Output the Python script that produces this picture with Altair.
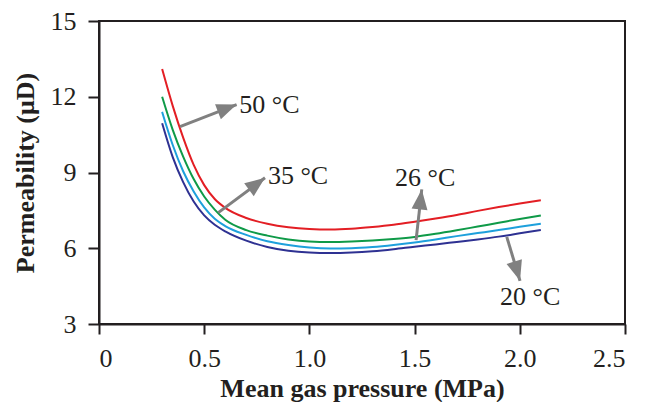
import math
import altair as alt
import pandas as pd

# ---- data ----
pressure = [0.30, 0.35, 0.40, 0.45, 0.50, 0.55, 0.60, 0.70, 0.80, 0.90, 1.00,
            1.10, 1.20, 1.30, 1.40, 1.50, 1.60, 1.70, 1.80, 1.90, 2.00, 2.10]
perm_50 = [13.1, 11.65, 10.38, 9.3, 8.5, 7.95, 7.6, 7.2, 6.97, 6.83, 6.76,
           6.74, 6.77, 6.84, 6.93, 7.05, 7.18, 7.32, 7.48, 7.63, 7.77, 7.9]
perm_35 = [12.0, 10.7, 9.63, 8.74, 8.05, 7.53, 7.13, 6.72, 6.5, 6.35, 6.27,
           6.25, 6.27, 6.31, 6.37, 6.45, 6.57, 6.71, 6.86, 7.01, 7.16, 7.3]
perm_26 = [11.4, 10.1, 9.05, 8.25, 7.62, 7.17, 6.88, 6.53, 6.28, 6.13, 6.03,
           5.99, 6.0, 6.05, 6.13, 6.23, 6.35, 6.48, 6.6, 6.72, 6.85, 6.97]
perm_20 = [10.95, 9.62, 8.62, 7.85, 7.3, 6.93, 6.67, 6.3, 6.05, 5.9, 5.83,
           5.81, 5.83, 5.88, 5.96, 6.06, 6.15, 6.25, 6.35, 6.46, 6.59, 6.72]

series_names = ["20 °C", "26 °C", "35 °C", "50 °C"]
series_values = [perm_20, perm_26, perm_35, perm_50]
series_colors = ["#2e3192", "#1ea0dc", "#0f9a48", "#e31e24"]

# annotations: label anchor and arrow tail -> tip (data units)
label_text = ["50 °C", "35 °C", "26 °C", "20 °C"]
label_x = [0.667, 0.803, 1.407, 1.906]
label_y = [11.35, 8.54, 8.46, 3.76]
arrow_x0 = [0.385, 0.567, 1.507, 1.938]
arrow_y0 = [10.82, 7.41, 6.32, 6.45]
arrow_x1 = [0.654, 0.789, 1.534, 2.001]
arrow_y1 = [11.69, 8.79, 8.33, 4.71]

x_ticks = [0, 0.5, 1.0, 1.5, 2.0, 2.5]
y_ticks = [3, 6, 9, 12, 15]

W, H = 526, 303
X_DOM = [0, 2.5]
Y_DOM = [3, 15]

rows = []
for name, vals in zip(series_names, series_values):
    for i, (p, v) in enumerate(zip(pressure, vals)):
        rows.append({"series": name, "p": p, "k": v, "order": i})
lines_df = pd.DataFrame(rows)

px_x = W / (X_DOM[1] - X_DOM[0])
px_y = H / (Y_DOM[1] - Y_DOM[0])
arr_rows = []
for i in range(len(arrow_x0)):
    dx = (arrow_x1[i] - arrow_x0[i]) * px_x
    dy = -(arrow_y1[i] - arrow_y0[i]) * px_y
    ang = math.degrees(math.atan2(dx, -dy)) % 360
    arr_rows.append({"x0": arrow_x0[i], "y0": arrow_y0[i],
                     "x1": arrow_x1[i], "y1": arrow_y1[i], "angle": ang})
arr_df = pd.DataFrame(arr_rows)
lab_df = pd.DataFrame({"t": label_text, "x": label_x, "y": label_y})

FONT = "Liberation Serif"
INK = "#231f20"

xscale = alt.Scale(domain=X_DOM, nice=False, zero=False)
yscale = alt.Scale(domain=Y_DOM, nice=False, zero=False)

xaxis = alt.Axis(values=x_ticks, title="Mean gas pressure (MPa)",
                 labelExpr="datum.value == 0 ? '0' : format(datum.value, '.1f')",
                 labelPadding=11, tickSize=10, titleY=72,
                 titleBaseline="alphabetic")
yaxis = alt.Axis(values=y_ticks, title="Permeability (μD)", labelPadding=12,
                 tickSize=11, titleAngle=270, titleX=-66, titleY=H / 2,
                 titleBaseline="alphabetic", titleAlign="center")

lines = alt.Chart(lines_df).mark_line(strokeWidth=2, interpolate="monotone").encode(
    x=alt.X("p:Q", scale=xscale, axis=xaxis),
    y=alt.Y("k:Q", scale=yscale, axis=yaxis),
    color=alt.Color("series:N", scale=alt.Scale(domain=series_names, range=series_colors),
                    legend=None),
    detail="series:N",
    order="order:Q",
)

shafts = alt.Chart(arr_df).mark_rule(strokeWidth=3, color="#808080").encode(
    x=alt.X("x0:Q", scale=xscale), y=alt.Y("y0:Q", scale=yscale),
    x2="x1:Q", y2="y1:Q",
)

heads = alt.Chart(arr_df).mark_point(
    shape="M0,0L-0.8,2L0.8,2Z", filled=True, size=400, color="#808080",
    opacity=1, strokeWidth=0,
).encode(
    x=alt.X("x1:Q", scale=xscale), y=alt.Y("y1:Q", scale=yscale),
    angle=alt.Angle("angle:Q", scale=None),
)

labels = alt.Chart(lab_df).mark_text(
    font=FONT, fontSize=26, color=INK, align="left", baseline="alphabetic"
).encode(
    x=alt.X("x:Q", scale=xscale), y=alt.Y("y:Q", scale=yscale), text="t:N",
)

chart = alt.layer(lines, shafts, heads, labels).properties(
    width=W, height=H,
    autosize=alt.AutoSizeParams(type="none"),
    padding={"left": 91, "top": 13, "right": 12, "bottom": 78},
).configure_view(
    stroke=INK, strokeWidth=2,
).configure_axis(
    grid=False, domainColor=INK, domainWidth=2, tickColor=INK, tickWidth=2,
    labelFont=FONT, labelFontSize=26, labelColor=INK,
    titleFont=FONT, titleFontSize=26, titleFontWeight="bold", titleColor=INK,
)

chart.save("out.html", embed_options={"renderer": "svg", "actions": False})
